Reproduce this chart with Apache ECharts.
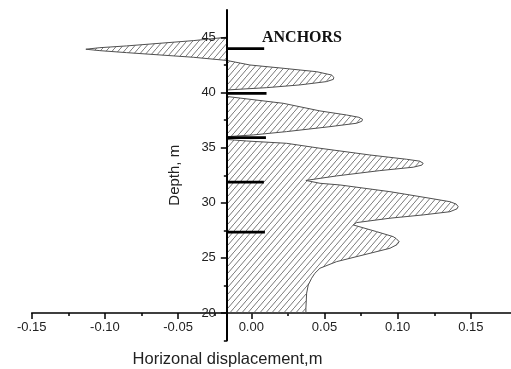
<!DOCTYPE html>
<html><head><meta charset="utf-8">
<script src="https://cdn.jsdelivr.net/npm/echarts@6/dist/echarts.min.js"></script>
<style>html,body{margin:0;padding:0;background:#fff}#c{width:511px;height:369px}</style>
</head><body><div id="c"></div>
<script>
// Displacement profile (outline of the hatched region), ascending depth
const profileDepth = [20.00,20.00,20.43,21.79,22.54,23.15,23.60,24.06,24.66,25.26,25.87,26.20,26.47,26.75,26.93,27.38,27.99,28.20,28.60,28.90,29.19,29.45,29.65,29.88,30.10,30.41,31.01,31.62,31.77,32.03,32.44,32.92,33.23,33.42,33.59,33.78,33.95,34.34,34.95,35.40,35.61,35.75,36.00,36.16,36.46,36.91,37.22,37.40,37.58,37.76,37.97,38.34,39.03,39.65,40.24,40.45,40.70,41.00,41.20,41.39,41.60,41.90,42.21,42.51,42.92,43.21,43.42,43.63,43.81,43.94,44.08,44.24,44.48,44.72,45.03];
const profileDisp = [-0.0167,0.0373,0.0373,0.0378,0.0389,0.0412,0.0434,0.0469,0.0583,0.0764,0.0947,0.0995,0.1010,0.0990,0.0969,0.0856,0.0696,0.0719,0.0947,0.1174,0.1357,0.1405,0.1413,0.1400,0.1357,0.1220,0.0947,0.0605,0.0469,0.0373,0.0583,0.0878,0.1106,0.1165,0.1174,0.1150,0.1061,0.0810,0.0469,0.0241,-0.0032,-0.0167,-0.0167,0.0013,0.0241,0.0537,0.0719,0.0755,0.0760,0.0735,0.0651,0.0469,0.0218,-0.0167,-0.0167,0.0105,0.0332,0.0514,0.0560,0.0564,0.0548,0.0446,0.0218,-0.0010,-0.0167,-0.0397,-0.0624,-0.0852,-0.1034,-0.1130,-0.1034,-0.0852,-0.0624,-0.0397,-0.0167];
// Anchors
const anchorDepth = [27.33, 31.87, 35.92, 39.94, 44.00];
const anchorEnd = [0.0093, 0.0086, 0.0100, 0.0104, 0.0088];
// Axes
const xMajorTicks = [-0.15, -0.10, -0.05, 0.00, 0.05, 0.10, 0.15];
const xMinorTicks = [-0.125, -0.075, -0.025, 0.025, 0.075, 0.125];
const yMajorTicks = [20, 25, 30, 35, 40, 45];
const yMinorTicks = [17.5, 22.5, 27.5, 32.5, 37.5, 42.5];
const axisCrossX = -0.0167;
const xMin = -0.15, xMax = 0.1774, yMin = 17.5, yMax = 47.5;

const gridLeft = 31.7, gridRight = 0, gridTop = 10, gridBottom = 28.5;
const W = 511, H = 369;
const gridW = W - gridLeft - gridRight, gridH = H - gridTop - gridBottom;
const yAxisOffset = -((axisCrossX - xMin) / (xMax - xMin) * gridW);
const xAxisOffset = -((yMajorTicks[0] - yMin) / (yMax - yMin) * gridH);

function hatch() {
  const c = document.createElement('canvas');
  const w = 6, h = 7;
  c.width = w; c.height = h;
  const g = c.getContext('2d');
  g.strokeStyle = '#555'; g.lineWidth = 0.8;
  g.beginPath(); g.moveTo(0, h); g.lineTo(w, 0); g.stroke();
  return c;
}
const pattern = { image: hatch(), repeat: 'repeat' };

const labelColor = '#222';
const chart = echarts.init(document.getElementById('c'), null, { renderer: 'canvas' });
chart.setOption({
  animation: false,
  backgroundColor: '#fff',
  grid: { left: gridLeft, right: gridRight, top: gridTop, bottom: gridBottom, containLabel: false },
  xAxis: [{
    type: 'value', min: xMin, max: xMax, offset: xAxisOffset, position: 'bottom',
    axisLine: { show: true, onZero: false, lineStyle: { color: '#000', width: 1.5 } },
    axisTick: { show: true, length: 6, customValues: xMajorTicks, lineStyle: { color: '#000', width: 1.5 } },
    axisLabel: { customValues: xMajorTicks, margin: 8, color: labelColor, fontSize: 13, fontFamily: 'Liberation Sans',
      formatter: v => v.toFixed(2) },
    splitLine: { show: false }
  }, {
    type: 'value', min: xMin, max: xMax, offset: xAxisOffset, position: 'bottom',
    axisLine: { show: false, onZero: false },
    axisTick: { show: true, length: 3, customValues: xMinorTicks, lineStyle: { color: '#000', width: 1.5 } },
    axisLabel: { show: false }, splitLine: { show: false }
  }],
  yAxis: [{
    type: 'value', min: yMin, max: yMax, offset: yAxisOffset, position: 'left', z: 5,
    name: 'Depth, m', nameLocation: 'middle', nameGap: 44, nameRotate: 90,
    nameTextStyle: { color: labelColor, fontSize: 15, fontFamily: 'Liberation Sans' },
    axisLine: { show: true, onZero: false, lineStyle: { color: '#000', width: 2 } },
    axisTick: { show: true, length: 6, customValues: yMajorTicks, lineStyle: { color: '#000', width: 1.5 } },
    axisLabel: { customValues: yMajorTicks, margin: 11, color: labelColor, fontSize: 13, fontFamily: 'Liberation Sans' },
    splitLine: { show: false }
  }, {
    type: 'value', min: yMin, max: yMax, offset: yAxisOffset, position: 'left', z: 5,
    axisLine: { show: false, onZero: false },
    axisTick: { show: true, length: 3, customValues: yMinorTicks, lineStyle: { color: '#000', width: 1.5 } },
    axisLabel: { show: false }, splitLine: { show: false }
  }],
  series: [{
    type: 'custom', coordinateSystem: 'cartesian2d', xAxisIndex: 0, yAxisIndex: 0, z: 2,
    encode: { x: 0, y: 1 },
    data: profileDepth.map((d, i) => [profileDisp[i], d]),
    renderItem: function (params, api) {
      if (params.dataIndex !== 0) return null;
      const pts = profileDepth.map((d, i) => api.coord([profileDisp[i], d]));
      return { type: 'polygon', shape: { points: pts },
        style: { fill: pattern, stroke: '#505050', lineWidth: 1 } };
    }
  }, {
    type: 'custom', coordinateSystem: 'cartesian2d', xAxisIndex: 0, yAxisIndex: 0, z: 6,
    encode: { x: 1, y: 0 },
    data: anchorDepth.map((d, i) => [d, anchorEnd[i]]),
    renderItem: function (params, api) {
      const d = api.value(0), e = api.value(1);
      const p0 = api.coord([axisCrossX, d]), p1 = api.coord([e, d]);
      return { type: 'line', shape: { x1: p0[0], y1: p0[1], x2: p1[0], y2: p1[1] },
        style: { stroke: '#000', lineWidth: 2.8 } };
    }
  }],
  graphic: [{
    type: 'text', x: 262, y: 37.5, z: 10,
    style: { text: 'ANCHORS', font: 'bold 16px "Liberation Serif"', fill: '#111', verticalAlign: 'middle', align: 'left' }
  }, {
    type: 'text', x: 227.5, y: 359, z: 10,
    style: { text: 'Horizonal displacement,m', font: '16.5px "Liberation Sans"', fill: labelColor, verticalAlign: 'middle', align: 'center' }
  }]
});
</script>
</body></html>
